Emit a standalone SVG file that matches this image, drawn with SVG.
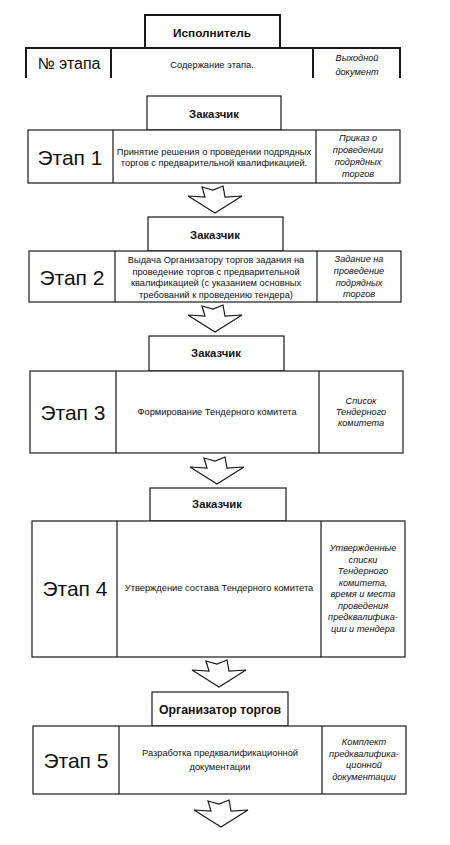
<svg xmlns="http://www.w3.org/2000/svg" width="450" height="845" viewBox="0 0 450 845">
<style>
.bx{fill:#fff;stroke:#1a1a1a;stroke-width:1.2}
.hd{fill:none;stroke:#1a1a1a;stroke-width:2}
.ln{stroke:#1a1a1a;stroke-width:1.2}
.ar{fill:#fff;stroke:#1a1a1a;stroke-width:1.2;stroke-linejoin:miter}
text{font-family:"Liberation Sans",Arial,sans-serif;fill:#111;text-anchor:middle}
.who{font-size:11.3px;font-weight:bold}
.st{font-size:21px}
.bd{font-size:9.3px}
.it{font-size:9.2px;font-style:italic}
</style>
<rect width="450" height="845" fill="#fff"/>
<defs>
<path id="arw" d="M-13,1 L-2,4 L8,0 L10,11 L27,10 L0,27 L-27,10 L-10,11 Z"/>
</defs>

<g id="header">
<path class="hd" d="M145,48 V15 H280 V48"/>
<path class="hd" d="M26,78 V48 H400 V78 M111,48 V78 M313,48 V78"/>
<text x="212" y="37" style="font-size:11.8px;font-weight:bold">Исполнитель</text>
<text x="69" y="69" style="font-size:16px">№ этапа</text>
<text x="212" y="68" class="bd">Содержание этапа.</text>
<text x="357" y="61" class="it">Выходной</text>
<text x="357" y="75" class="it">документ</text>
</g>

<g id="stage1">
<rect class="bx" x="147" y="96" width="134" height="34"/>
<text x="214" y="118" class="who">Заказчик</text>
<rect class="bx" x="28" y="130" width="372" height="53"/>
<line class="ln" x1="113" y1="130" x2="113" y2="183"/>
<line class="ln" x1="316" y1="130" x2="316" y2="183"/>
<text x="70" y="164.5" class="st">Этап 1</text>
<text x="214" y="155" class="bd">Принятие решения о проведении подрядных</text>
<text x="214" y="166" class="bd">торгов с предварительной квалификацией.</text>
<text x="358" y="141" class="it">Приказ о</text>
<text x="358" y="153" class="it">проведении</text>
<text x="358" y="165" class="it">подрядных</text>
<text x="358" y="177" class="it">торгов</text>
</g>

<g id="stage2">
<rect class="bx" x="148" y="217" width="135" height="34"/>
<text x="215" y="239" class="who">Заказчик</text>
<rect class="bx" x="29" y="251" width="372" height="51"/>
<line class="ln" x1="115" y1="251" x2="115" y2="302"/>
<line class="ln" x1="317" y1="251" x2="317" y2="302"/>
<text x="72" y="284.5" class="st">Этап 2</text>
<text x="216" y="263" class="bd">Выдача Организатору торгов задания на</text>
<text x="216" y="274.5" class="bd">проведение торгов с предварительной</text>
<text x="216" y="286" class="bd">квалификацией (с указанием основных</text>
<text x="216" y="297.5" class="bd">требований к проведению тендера)</text>
<text x="359" y="262" class="it">Задание на</text>
<text x="359" y="274" class="it">проведение</text>
<text x="359" y="286" class="it">подрядных</text>
<text x="359" y="297" class="it">торгов</text>
</g>

<g id="stage3">
<rect class="bx" x="149" y="336" width="135" height="35"/>
<text x="216" y="357" class="who">Заказчик</text>
<rect class="bx" x="30" y="371" width="373" height="82"/>
<line class="ln" x1="116" y1="371" x2="116" y2="453"/>
<line class="ln" x1="319" y1="371" x2="319" y2="453"/>
<text x="73" y="419.5" class="st">Этап 3</text>
<text x="217" y="415" class="bd">Формирование Тендерного комитета</text>
<text x="361" y="404" class="it">Список</text>
<text x="361" y="415" class="it">Тендерного</text>
<text x="361" y="426" class="it">комитета</text>
</g>

<g id="stage4">
<rect class="bx" x="150" y="488" width="136" height="33"/>
<text x="217" y="508" class="who">Заказчик</text>
<rect class="bx" x="32" y="521" width="373" height="136"/>
<line class="ln" x1="117" y1="521" x2="117" y2="657"/>
<line class="ln" x1="321" y1="521" x2="321" y2="657"/>
<text x="75" y="595.5" class="st">Этап 4</text>
<text x="219" y="591" class="bd">Утверждение состава Тендерного комитета</text>
<text x="363" y="551" class="it">Утвержденные</text>
<text x="363" y="562.5" class="it">списки</text>
<text x="363" y="574" class="it">Тендерного</text>
<text x="363" y="585.5" class="it">комитета,</text>
<text x="363" y="597" class="it">время и места</text>
<text x="363" y="608.5" class="it">проведения</text>
<text x="363" y="620" class="it">предквалифика-</text>
<text x="363" y="631.5" class="it">ции и тендера</text>
</g>

<g id="stage5">
<rect class="bx" x="152" y="692" width="136" height="34"/>
<text x="220" y="713.5" style="font-size:12.3px;font-weight:bold">Организатор торгов</text>
<rect class="bx" x="33" y="726" width="373" height="68"/>
<line class="ln" x1="119" y1="726" x2="119" y2="794"/>
<line class="ln" x1="322" y1="726" x2="322" y2="794"/>
<text x="76" y="767.5" class="st">Этап 5</text>
<text x="220" y="756" class="bd">Разработка предквалификационной</text>
<text x="220" y="770" class="bd">документации</text>
<text x="364" y="745" class="it">Комплект</text>
<text x="364" y="756.5" class="it">предквалифика-</text>
<text x="364" y="768" class="it">ционной</text>
<text x="364" y="780" class="it">документации</text>
</g>

<g id="connectors">
<use href="#arw" class="ar" transform="translate(215,186)"/>
<use href="#arw" class="ar" transform="translate(215,305)"/>
<use href="#arw" class="ar" transform="translate(217,457)"/>
<use href="#arw" class="ar" transform="translate(219,660)"/>
<use href="#arw" class="ar" transform="translate(221,800)"/>
</g>
</svg>
